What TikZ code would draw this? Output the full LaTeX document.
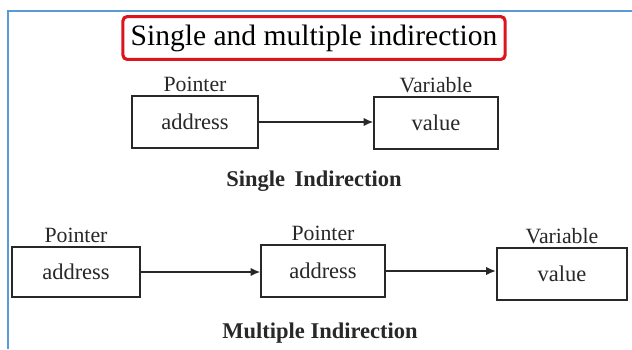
\documentclass[tikz,border=0pt]{standalone}
\usepackage{fontspec}
\setmainfont{Liberation Serif}
\usetikzlibrary{arrows.meta, positioning}
\definecolor{framblue}{RGB}{91, 155, 213}
\definecolor{titlered}{RGB}{220, 20, 30}
\definecolor{inkgray}{RGB}{40, 40, 40}

\begin{document}
\begin{tikzpicture}[
  x=0.025cm, y=-0.025cm,
  cellbox/.style={draw=inkgray, line width=1.4pt, minimum height=1.3cm, align=center,
    font=\fontsize{16}{19}\selectfont, text=inkgray},
  tagtext/.style={font=\fontsize{15.5}{18}\selectfont, text=inkgray, inner sep=1pt},
  captext/.style={font=\fontsize{16}{19}\selectfont\bfseries, text=inkgray},
  link/.style={-{Latex[length=7pt, width=6pt]}, line width=1.3pt, draw=inkgray}
]
  \useasboundingbox (0,0) rectangle (632,349);
  \fill[white] (0,0) rectangle (632,349);
  % outer frame
  \draw[framblue, line width=1.2pt] (8,349) -- (8,11) -- (632,11);

  % title
  \node[draw=titlered, line width=2.2pt, rounded corners=3pt, minimum width=9.55cm,
    minimum height=1.07cm, font=\fontsize{21}{24}\selectfont] (title) at (314,38)
    {Single and multiple indirection};

  % single indirection
  \node[cellbox, minimum width=3.15cm] (ptrA) at (195,122) {address};
  \node[cellbox, minimum width=3.08cm] (varA) at (436,123) {value};
  \node[tagtext, above=1pt of ptrA] (ptrAtag) {Pointer};
  \node[tagtext, above=1pt of varA] (varAtag) {Variable};
  \node[captext] (capA) at (314,181) {Single\, Indirection};
  \draw[link] (ptrA) -- (ptrA -| varA.west);

  % multiple indirection
  \node[cellbox, minimum width=3.18cm, minimum height=1.25cm] (ptrB) at (76,272) {address};
  \node[cellbox, minimum width=3.08cm] (ptrC) at (323,271) {address};
  \node[cellbox, minimum width=3.25cm] (varB) at (562,274) {value};
  \node[tagtext, above=1pt of ptrB] (ptrBtag) {Pointer};
  \node[tagtext, above=1pt of ptrC] (ptrCtag) {Pointer};
  \node[tagtext, above=1pt of varB] (varBtag) {Variable};
  \node[captext] (capB) at (320,333) {Multiple Indirection};
  \draw[link] (ptrB) -- (ptrB -| ptrC.west);
  \draw[link] (ptrC) -- (ptrC -| varB.west);
\end{tikzpicture}
\end{document}
